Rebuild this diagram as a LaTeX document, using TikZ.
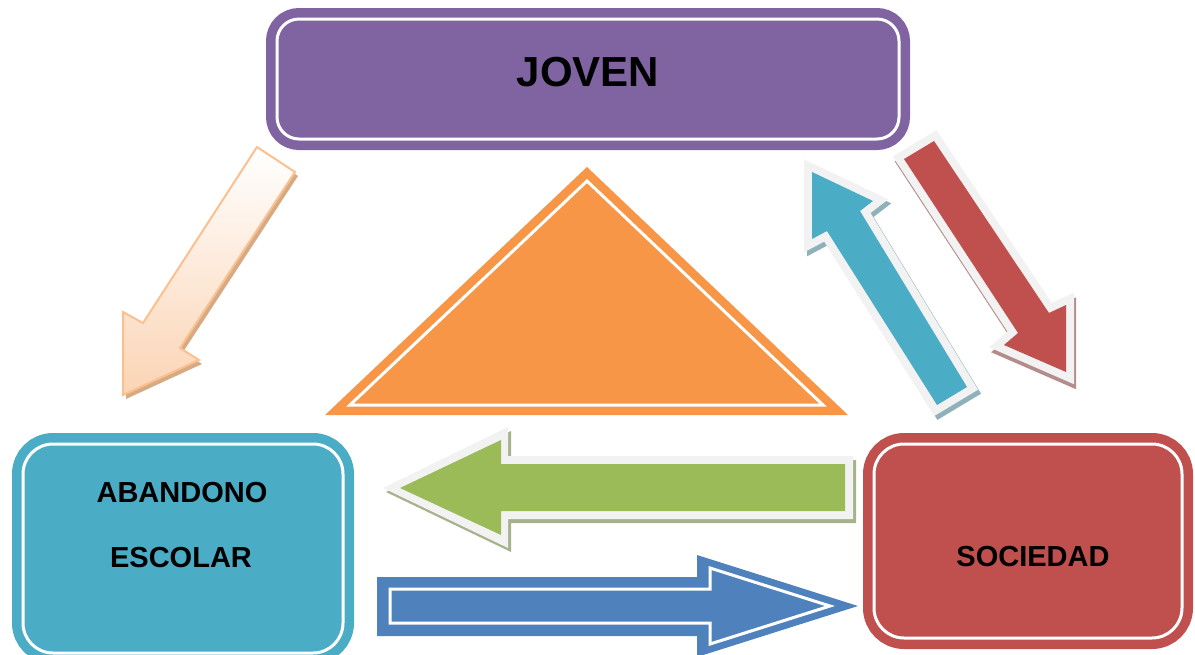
\documentclass[tikz,border=0pt]{standalone}
\usepackage{fontspec}
\setmainfont{Liberation Sans}
\definecolor{jpurple}{HTML}{8064A2}
\definecolor{jcyan}{HTML}{4BACC6}
\definecolor{jred}{HTML}{C0504D}
\definecolor{jorange}{HTML}{F79646}
\definecolor{jgreen}{HTML}{9BBB59}
\definecolor{jblue}{HTML}{4F81BD}
\definecolor{jgrey}{HTML}{F2F2F2}
\definecolor{peachline}{HTML}{FAC090}
\definecolor{peachfill}{HTML}{FBD4B4}
\definecolor{peachshadow}{RGB}{214,170,130}
\definecolor{cyanshadow}{RGB}{143,177,186}
\definecolor{redshadow}{RGB}{180,140,140}
\definecolor{greenshadow}{RGB}{166,178,140}
\begin{document}
\begin{tikzpicture}[x=1pt,y=-1pt,
  boxstyle/.style={draw=white, line width=3pt, inner sep=0pt, outer sep=0pt,
    preaction={draw=#1, line width=22pt}, fill=#1},
  bigtext/.style={font=\bfseries\fontsize{42}{48}\selectfont, inner sep=0pt},
  smalltext/.style={font=\bfseries\fontsize{29}{34}\selectfont, inner sep=0pt},
  greyborder/.style={draw=jgrey, line width=16pt, miter limit=4, fill=jgrey},
  shadowborder/.style={draw=#1, line width=16pt, miter limit=4, fill=#1}]
\useasboundingbox (0,0) rectangle (1195,654);
\clip (0,0) rectangle (1195,654);

\def\cyanA{(812,172)--(873,201)--(860,211)--(967,387)--(937,405)--(827,231)--(812,239)--cycle}
\def\redA{(904,159)--(934,141)--(1049,313)--(1066,305)--(1066,372)--(1004,345)--(1018,333)--cycle}
\def\peachA{(257,147)--(295,172)--(180,348)--(199,360)--(123,395)--(123,312)--(143,323)--cycle}

% triangle
\coordinate (tapex) at (587,167);
\fill[jorange] (tapex)--(848,415)--(325,415)--cycle;
\draw[white, line width=3pt] (587,181)--(823,405)--(350,405)--cycle;

% peach arrow
\begin{scope}[shift={(3,4)}]
  \fill[peachshadow] \peachA;
\end{scope}
\shade[top color=white, bottom color=peachfill, draw=peachline, line width=2pt] \peachA;

% cyan arrow
\begin{scope}[shift={(3,4)}]
  \path[shadowborder=cyanshadow] \cyanA;
\end{scope}
\path[greyborder] \cyanA;
\fill[jcyan] \cyanA;

% red arrow
\begin{scope}[shift={(2,5)}]
  \path[shadowborder=redshadow] \redA;
\end{scope}
\path[greyborder] \redA;
\fill[jred] \redA;

% green arrow
\fill[greenshadow] (856,460)--(856,523)--(511,523)--(511,552)--(386,492)--(511,431)--(511,460)--cycle;
\fill[jgrey] (853,456)--(853,519)--(508,519)--(508,548)--(383,488)--(508,427)--(508,456)--cycle;
\fill[jgreen] (845,464)--(845,511)--(501,511)--(501,535)--(400,488)--(501,440)--(501,464)--cycle;

% blue arrow
\fill[jblue] (377,577)--(697,577)--(697,555)--(858,606)--(697,657)--(697,636)--(377,636)--cycle;
\draw[white, line width=3pt] (390,589)--(710,589)--(710,568)--(830,606)--(710,644)--(710,623)--(390,623)--cycle;

% boxes
\node[boxstyle=jpurple, rounded corners=22pt, minimum width=622pt, minimum height=120pt] (jovenbox) at (588,79) {};
\node[bigtext] (joven) at (588,72) {JOVEN};

\node[boxstyle=jcyan, rounded corners=30pt, minimum width=320pt, minimum height=209pt] (abbox) at (183,548.5) {};
\node[smalltext] (ab1) at (182,493) {ABANDONO};
\node[smalltext] (ab2) at (181,558) {ESCOLAR};

\node[boxstyle=jred, rounded corners=30pt, minimum width=308pt, minimum height=194pt] (socbox) at (1028,541) {};
\node[smalltext] (soc) at (1033,557) {SOCIEDAD};
\end{tikzpicture}
\end{document}
